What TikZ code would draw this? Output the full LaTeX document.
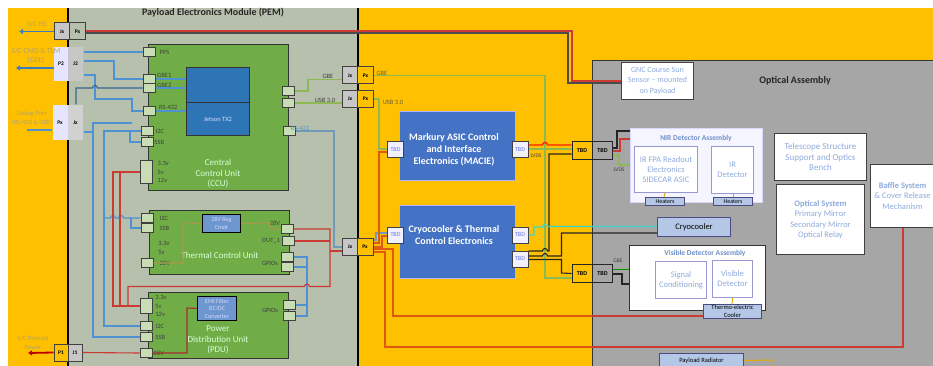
\documentclass[tikz,border=0pt]{standalone}
\usepackage{fontspec}
\setmainfont{Carlito}
\usepackage{xcolor}
\usetikzlibrary{arrows.meta,positioning}
\definecolor{busorange}{HTML}{FFC000}
\definecolor{pempanel}{HTML}{B7C0AC}
\definecolor{unitgreen}{HTML}{70AD47}
\definecolor{portgreen}{HTML}{C9DDB4}
\definecolor{optgray}{HTML}{A6A6A6}
\definecolor{jetblue}{HTML}{2E75B6}
\definecolor{elecblue}{HTML}{4472C4}
\definecolor{regblue}{HTML}{6F97CF}
\definecolor{partblue}{HTML}{B4C7E7}
\definecolor{wireblue}{HTML}{4F92D2}
\definecolor{wiregray}{HTML}{6F9AB8}
\definecolor{wirered}{HTML}{CC3A34}
\definecolor{wirepow}{HTML}{DE5A12}
\definecolor{wiregreen}{HTML}{8DB955}
\definecolor{wirecyan}{HTML}{38D6CE}
\definecolor{wireolive}{HTML}{A8984C}
\definecolor{arrblue}{HTML}{3C7EBB}
\definecolor{paletext}{HTML}{8FAADC}
\definecolor{titletext}{HTML}{6F8FC8}
\definecolor{olivetext}{HTML}{B0A468}

\begin{document}
\begin{tikzpicture}[
  x=1pt, y=-1pt,
  box/.style={draw, inner sep=0pt, align=center, anchor=north west},
  unit/.style={box, fill=unitgreen, line width=0.9pt, draw=black!80},
  unittext/.style={align=center, text=white!85!green, font=\fontsize{9}{10.5}\selectfont, inner sep=0pt},
  port/.style={draw=black!75, fill=portgreen, line width=1pt, inner sep=0pt, minimum width=12pt, minimum height=9pt},
  conn/.style={draw=black!75, line width=1pt, inner sep=0pt, minimum width=16pt, minimum height=17pt, font=\fontsize{5.5}{6}\selectfont\bfseries},
  jgray/.style={conn, fill=black!22},
  porange/.style={conn, fill=busorange},
  tbd/.style={draw=black!75, fill=blue!6, line width=1pt, inner sep=0pt, minimum width=16pt, minimum height=16pt, text=paletext!70!blue, font=\fontsize{6}{7}\selectfont},
  tbdo/.style={draw=black!85, fill=busorange, line width=1pt, inner sep=0pt, minimum width=20pt, minimum height=18pt, font=\fontsize{6}{7}\selectfont\bfseries},
  tbdg/.style={tbdo, fill=optgray},
  elec/.style={box, fill=elecblue, draw=blue!30!white, line width=0.8pt, minimum width=116pt},
  electext/.style={align=center, text=white, inner sep=0pt, font=\fontsize{10}{12}\selectfont\bfseries},
  whitebox/.style={box, fill=white, draw=black!75, line width=1pt, text=paletext, font=\fontsize{8.5}{10.5}\selectfont},
  inner/.style={box, fill=white, draw=black!45!blue!40, line width=1pt, text=paletext, font=\fontsize{8.5}{10}\selectfont},
  partbox/.style={box, fill=partblue, draw=blue!30!black!70, line width=1pt, font=\fontsize{6.5}{8}\selectfont},
  lbl/.style={font=\fontsize{6.5}{7.5}\selectfont, text=black!75, inner sep=0pt},
  ext/.style={text=olivetext, align=center, inner sep=0pt, font=\fontsize{6.5}{8.5}\selectfont},
  wb/.style={draw=wireblue, line width=1.2pt},
  wr/.style={draw=wirered, line width=1.1pt},
  wp/.style={draw=wirepow, line width=1.4pt},
  wg/.style={draw=wiregreen, line width=1.2pt},
  wk/.style={draw=black!85, line width=1.1pt},
  wo/.style={draw=busorange!90!black, line width=1pt},
  wl/.style={draw=wireolive, line width=1.1pt},
  arrb/.style={-{Latex[length=4pt,width=6pt]}, draw=arrblue, line width=1.6pt},
  arrr/.style={-{Latex[length=4pt,width=6pt]}, draw=red!75!black, line width=1.8pt}
]
  \useasboundingbox (0,0) rectangle (933,366);
  % backgrounds
  \fill[busorange] (8,8) rectangle (933,366);
  \fill[pempanel] (68,8) rectangle (358,366);
  \node[box, fill=optgray, draw=black!80, line width=0.9pt, minimum width=342pt, minimum height=307pt] (optical) at (592,60) {};
  \draw[black, line width=1.6pt] (68,8) -- (68,366);
  \draw[black, line width=1.6pt] (358,8) -- (358,366);
  \node[font=\fontsize{10}{12}\selectfont\bfseries, text=black!85] (pemtitle) at (213,13) {Payload Electronics Module (PEM)};
  \node[font=\fontsize{10}{12}\selectfont\bfseries, text=black!85] (opttitle) at (795,81) {Optical Assembly};

  % CCU
  \node[unit, minimum width=140pt, minimum height=146pt] (ccu) at (148,44) {};
  \node[box, fill=jetblue, draw=black!80, line width=0.9pt, minimum width=63pt, minimum height=35pt] (jettop) at (186,67) {};
  \node[box, fill=jetblue, draw=black!80, line width=0.9pt, minimum width=63pt, minimum height=33pt, text=white!85!blue, font=\fontsize{6.5}{8}\selectfont] (jetson) at (186,102) {Jetson TX2};
  \node[unittext] (ccutext) at (218,173.5) {Central\\Control Unit\\(CCU)};
  \node[port] (ccupps) at (149,52) {};
  \node[port] (ccugbea) at (149,79) {};
  \node[port] (ccugbeb) at (149,88) {};
  \node[port] (ccurs) at (149,111) {};
  \node[port] (ccuii) at (147,131) {};
  \node[port] (ccussb) at (147,142) {};
  \node[port, minimum height=23pt] (ccupwr) at (146,172) {};
  \node[port] (ccuoa) at (288,91) {};
  \node[port] (ccuob) at (288,103) {};
  \node[port] (ccuoc) at (289,131) {};
  \node[lbl, right=4pt of ccupps] (lpps) {PPS};
  \node[lbl, anchor=west] (lgbea) at (157,75.5) {GBE1};
  \node[lbl, anchor=west] (lgbeb) at (157,85) {GBE2};
  \node[lbl, anchor=west] (lrs) at (159,107.5) {RS-422};
  \node[lbl, right=2pt of ccuii] (lii) {I2C};
  \node[lbl, right=1pt of ccussb] (lssb) {SSB};
  \node[lbl, align=left, font=\fontsize{6.5}{8.5}\selectfont, right=5pt of ccupwr] (lpwr) {3.3v\\5v\\12v};

  % thermal control unit
  \node[unit, minimum width=140pt, minimum height=64pt] (tcu) at (149,210) {};
  \node[box, fill=regblue, draw=black, line width=0.9pt, minimum width=38pt, minimum height=18pt, text=white!85!blue, font=\fontsize{6}{7.5}\selectfont] (reg) at (202,214) {28V Reg\\Cmdr};
  \node[unittext] (tcutext) at (220,255) {Thermal Control Unit};
  \node[port] (tcuii) at (147,218) {};
  \node[port] (tcussb) at (147,228) {};
  \node[port] (tcuin) at (147,263) {};
  \node[port] (tcupwr) at (287,229) {};
  \node[port] (tcuout) at (288,241) {};
  \node[port] (tcuga) at (287,257) {};
  \node[port] (tcugb) at (287,267) {};
  \node[lbl, right=6pt of tcuii] (ltii) {I2C};
  \node[lbl, right=6pt of tcussb] (ltssb) {SSB};
  \node[lbl, align=left, font=\fontsize{6.5}{9}\selectfont] (ltpwr) at (164,247.5) {3.3v\\5v};
  \node[lbl, right=6pt of tcuin] (ltin) {28V};
  \node[lbl] (ltout) at (275,223) {28V};
  \node[lbl] (ltoa) at (271,241) {OUT\_1};
  \node[lbl] (ltgp) at (270,263) {GPIOs};

  % power distribution unit
  \node[unit, minimum width=140pt, minimum height=66pt] (pdu) at (148,292) {};
  \node[box, fill=regblue, draw=black, line width=0.9pt, minimum width=39pt, minimum height=24pt, text=white!85!blue, font=\fontsize{6}{7.5}\selectfont] (emi) at (197,296) {EMI Filter\\DC/DC\\Converter};
  \node[unittext] (pdutext) at (218,340) {Power\\Distribution Unit\\(PDU)};
  \node[port, minimum height=15pt] (pdupwr) at (146,306) {};
  \node[port] (pduii) at (146,326) {};
  \node[port] (pdussb) at (146,337) {};
  \node[port] (pduin) at (146,353) {};
  \node[port] (pduga) at (289,305) {};
  \node[port] (pdugb) at (289,316) {};
  \node[lbl, align=left, font=\fontsize{6.5}{8.5}\selectfont] (lppwr) at (161,306) {3.3v\\5v\\12v};
  \node[lbl, right=3pt of pduii] (lpii) {I2C};
  \node[lbl, right=3pt of pdussb] (lpssb) {SSB};
  \node[lbl, right=1pt of pduin] (lpin) {28V};
  \node[lbl] (lpgp) at (270,310) {GPIOs};

  % connectors on the left edge
  \node[jgray] (jxtop) at (62,31.5) {Jx};
  \node[conn, fill=pempanel] (pxtop) at (77.5,31.5) {Px};
  \node[conn, draw=none, fill=white!90!blue, minimum width=14pt, minimum height=34pt] (ptwo) at (61,64) {P2};
  \node[conn, draw=none, fill=black!22, minimum width=15pt, minimum height=34pt] (jtwo) at (75.5,64) {J2};
  \node[conn, draw=none, fill=white!90!blue, minimum width=15pt, minimum height=35pt] (pxdbg) at (60,122.5) {Px};
  \node[conn, draw=none, fill=black!18, minimum width=15pt, minimum height=35pt] (jxdbg) at (75.5,122.5) {Jx};
  \node[porange, minimum width=14pt] (pone) at (61,352.5) {P1};
  \node[jgray, minimum width=14pt] (jone) at (75,352.5) {J1};
  \coordinate (toparr) at (19,31.5);
  \coordinate (cmdarr) at (16,68);
  \coordinate (dbgend) at (27,130);
  \coordinate (pwrarr) at (28,353);
  \node[ext, font=\fontsize{7}{8.5}\selectfont] (lsc) at (37,24.5) {S/C ISS};
  \node[ext, font=\fontsize{7.5}{9}\selectfont] (lcmd) at (36,56) {S/C CMD \& TLM\\(GBE)};
  \node[ext] (ldbg) at (32,118) {Debug Port\\(RS-422 \& GBE)};
  \node[ext] (lpay) at (33,343) {S/C Payload\\Power};

  % connectors on the module edge
  \node[jgray] (jxa) at (350,75.5) {Jx};
  \node[porange] (pxa) at (365.5,75.5) {Px};
  \node[jgray] (jxb) at (350,99) {Jx};
  \node[porange] (pxb) at (365.5,99) {Px};
  \node[jgray] (jxc) at (350,247) {Jx};
  \node[porange] (pxc) at (365,247) {Px};
  \node[lbl] (lga) at (328,76) {GBE};
  \node[lbl] (lua) at (325,100.5) {USB 3.0};
  \node[lbl, text=olivetext!60!black] (lgb) at (382,73) {GBE};
  \node[lbl, text=olivetext!60!black] (lub) at (393,102) {USB 3.0};
  \node[lbl, text=wireblue] (lrsb) at (300,128) {RS-422};

  % electronics
  \node[elec, minimum height=69pt] (macie) at (399,111) {};
  \node[electext] (macietext) at (454,150) {Markury ASIC Control\\and Interface\\Electronics (MACIE)};
  \node[elec, minimum height=73pt] (cryoel) at (399,205) {};
  \node[electext] (cryotext) at (454,235.5) {Cryocooler \& Thermal\\Control Electronics};
  \node[tbd] (mcl) at (395.5,149.5) {TBD};
  \node[tbd] (mcr) at (520,149.5) {TBD};
  \node[tbd] (crl) at (395.5,235) {TBD};
  \node[tbd] (cra) at (520,235) {TBD};
  \node[tbd] (crb) at (520,259) {TBD};
  \node[tbdo] (toa) at (582,151) {TBD};
  \node[tbdg] (tga) at (602.5,151) {TBD};
  \node[tbdo] (tob) at (582,273.5) {TBD};
  \node[tbdg] (tgb) at (602.5,273.5) {TBD};
  \node[lbl, font=\fontsize{5.5}{6}\selectfont] (lvda) at (536,155.5) {LVDS};
  \node[lbl, font=\fontsize{5.5}{6}\selectfont] (lvdb) at (619,169.5) {LVDS};
  \node[lbl, font=\fontsize{5.5}{6}\selectfont] (lgbc) at (618,261) {GBE};

  % optical assembly
  \node[whitebox, minimum width=72pt, minimum height=37pt, font=\fontsize{8}{10.5}\selectfont] (gnc) at (621,62) {GNC Course Sun\\Sensor -- mounted\\on Payload};
  \node[box, fill=white!96!blue, draw=blue!15, line width=0.8pt, minimum width=132pt, minimum height=74pt] (nir) at (630,128) {};
  \node[font=\fontsize{7.5}{9}\selectfont\bfseries, text=titletext, inner sep=0pt] (nirtitle) at (696,138) {NIR Detector Assembly};
  \node[inner, minimum width=63pt, minimum height=46pt] (fpa) at (634,146) {IR FPA Readout\\Electronics\\SIDECAR ASIC};
  \node[inner, minimum width=42pt, minimum height=47pt] (irdet) at (711,146) {IR\\Detector};
  \node[partbox, minimum width=39pt, minimum height=8pt, font=\fontsize{6}{7}\selectfont] (heata) at (645,197) {Heaters};
  \node[partbox, minimum width=39pt, minimum height=8pt, font=\fontsize{6}{7}\selectfont] (heatb) at (713,197) {Heaters};
  \node[partbox, minimum width=73pt, minimum height=19pt, font=\fontsize{8.5}{10}\selectfont] (cooler) at (657,217) {Cryocooler};
  \node[box, fill=white, draw=black!80, line width=1pt, minimum width=136pt, minimum height=65pt] (vis) at (629,245) {};
  \node[font=\fontsize{7.5}{9}\selectfont\bfseries, text=titletext, inner sep=0pt] (vistitle) at (705,253) {Visible Detector Assembly};
  \node[inner, minimum width=51pt, minimum height=37pt] (signal) at (655,261) {Signal\\Conditioning};
  \node[inner, minimum width=40pt, minimum height=37pt] (visdet) at (712,260) {Visible\\Detector};
  \node[partbox, minimum width=58pt, minimum height=14pt] (tec) at (703,304) {Thermo-electric\\Cooler};
  \node[partbox, minimum width=84pt, minimum height=14pt] (rad) at (659,353) {Payload Radiator};
  \node[whitebox, minimum width=92pt, minimum height=47pt, font=\fontsize{9}{10.5}\selectfont] (scope) at (774,133) {Telescope Structure\\Support and Optics\\Bench};
  \node[whitebox, minimum width=88pt, minimum height=70pt] (optsys) at (776,184) {\textbf{Optical System}\\Primary Mirror\\Secondary Mirror\\Optical Relay};
  \node[whitebox, minimum width=64pt, minimum height=63pt] (baffle) at (870,164) {\textbf{Baffle System}\\\& Cover Release\\Mechanism};
  \coordinate (radend) at (773,366);

  % spacecraft links
  \draw[arrb] (jxtop.west) -- (toparr);
  \draw[arrb] (ptwo.west |- 0,68) -- (cmdarr);
  \draw[wb] (pxdbg.west |- 0,130) -- (dbgend);
  \draw[arrr] (pone.west) -- (pwrarr);
  \draw[wr] (pxtop.east |- 0,31) -- (572,31) -- (572,81) -- (gnc.west |- 0,81);
  \draw[wk, draw=black!70] (pxtop.east |- 0,33) -- (568,33) -- (568,83) -- (gnc.west |- 0,83);

  % blue links in the module
  \draw[wb] (jtwo.east |- 0,52) -- (ccupps.west);
  \draw[wb] (jtwo.east |- 0,61) -- (114,61) -- (114,79) -- (ccugbea.west);
  \draw[wb] (jtwo.east |- 0,75) -- (95,75) -- (95,99) -- (132,99) -- (132,111) -- (ccurs.west);
  \draw[wb, draw=wireblue!70!black] (jxdbg.north -| 76,0) -- (76,88) -- (92.5,88) arc[start angle=180,end angle=0,radius=2.5pt] -- (ccugbeb.west);
  \draw[wb] (jxdbg.east |- 0,132) -- (93,132);
  \draw[wb] (132,123) -- (93,123) -- (93,337) -- (pdussb.west);
  \draw[wb] (ccuii.west) -- (104,131) -- (104,326) -- (pduii.west);
  \draw[wb] (130,131) -- (130,142) -- (ccussb.west);
  \draw[wb] (104,218) -- (110.5,218) arc[start angle=180,end angle=0,radius=2.5pt] -- (118.5,218) arc[start angle=180,end angle=0,radius=2.5pt] -- (tcuii.west);
  \draw[wb] (131,218) -- (131,228) -- (tcussb.west);
  \draw[wb] (tcuga.east) -- (307,257) -- (307,316) -- (pdugb.east);
  \draw[wb] (tcugb.east) -- (307,267);
  \draw[wb] (pduga.east) -- (307,305);
  \draw[wb] (ccugbea.east) -- (jettop.west |- 0,79);
  \draw[wb] (ccugbeb.east) -- (jettop.west |- 0,88);
  \draw[wb] (ccurs.east) -- (jetson.west |- 0,111);
  \draw[wb, draw=wiregray] (ccuoc.east) -- (334,131) -- (334,247) -- (jxc.west |- 0,247);
  \draw[wb, draw=wiregray] (pxc.east |- 0,240) -- (376,240) -- (376,233) -- (crl.west |- 0,233);

  % power links in the module
  \draw[wr] (ccupwr.west) -- (113,172) -- (113,306) -- (pdupwr.west);
  \draw[wr] (120,172) -- (120,306);
  \draw[wr] (tcupwr.east) -- (330,229) -- (330,286.5) -- (309.5,286.5) arc[start angle=0,end angle=180,radius=2.5pt] -- (128,286.5) -- (128,306);
  \draw[wr] (tcuout.east) -- (330,241);
  \draw[wr] (330,251) -- (jxc.west |- 0,251);
  \draw[wr] (jone.east) -- (pduin.west);
  \draw[wr, draw=wirered!80!black] (pduin.east) -- (187,353) -- (187,308) -- (emi.west);
  \draw[wl] (tcuin.east) -- (183,263) -- (183,223) -- (reg.west);
  \draw[wl] (reg.east) -- (270,223) -- (270,229) -- (tcupwr.west);

  % links to the bus
  \draw[wg] (ccuoa.east) -- (308,91) -- (308,79.5) -- (jxa.west |- 0,79.5);
  \draw[wg] (ccuob.east) -- (jxb.west |- 0,103);
  \draw[wg] (pxa.east) -- (545,75.5) -- (545,278) -- (tob.west |- 0,278);
  \draw[wg] (pxb.east) -- (379,99) -- (379,149) -- (mcl.west |- 0,149);
  \draw[wp] (mcl.west |- 0,152) -- (379,152) -- (379,243) -- (pxc.east |- 0,243);
  \draw[wp] (pxc.east) -- (382,247) -- (382,236) -- (crl.west |- 0,236);
  \draw[wp] (pxc.east |- 0,249) -- (393,249) -- (393,316) -- (592,316);
  \draw[wr] (592,316) -- (tec.west |- 0,316);
  \draw[wp] (pxc.east |- 0,252) -- (385,252) -- (385,347) -- (592,347);
  \draw[wr] (592,347) -- (903,347) -- (903,227.5);

  % detector harness
  \draw[wp, draw=red!75!orange] (mcr.east |- 0,145) -- (542.5,145) arc[start angle=180,end angle=0,radius=2.5pt] -- (toa.west |- 0,145);
  \draw[wg] (mcr.east |- 0,149) -- (toa.west |- 0,149);
  \draw[wk] (toa.west |- 0,154) -- (549,154) -- (549,251) -- (547.5,251) arc[start angle=0,end angle=180,radius=2.5pt] -- (crb.east |- 0,251);
  \draw[wk] (cooler.west |- 0,233) -- (561.5,233) -- (561.5,256) -- (547.5,256) arc[start angle=0,end angle=180,radius=2.5pt] -- (crb.east |- 0,256);
  \draw[wk] (crb.east |- 0,259.5) -- (561.5,259.5) -- (561.5,273) -- (tob.west);
  \draw[wirecyan, line width=1.1pt] (cra.east) -- (534,235) -- (534,227) -- (542.5,227) arc[start angle=180,end angle=0,radius=2.5pt] -- (550,226.5) -- (cooler.west |- 0,226.5);
  \draw[wk] (tga.east |- 0,148) -- (617,148) -- (617,131) -- (nir.west |- 0,131);
  \draw[wr] (tga.east |- 0,151) -- (620,151) -- (620,139) -- (nir.west |- 0,139);
  \draw[wg] (tga.east |- 0,155) -- (619,155) -- (619,165) -- (nir.west |- 0,165);
  \draw[draw=green!60!black, line width=1pt] (tgb.east |- 0,269) -- (vis.west |- 0,269);
  \draw[wk] (tgb.east |- 0,274) -- (622,274) -- (622,284) -- (vis.west |- 0,284);

  % small cooling straps
  \draw[wo] (fpa.south -| 665,0) -- (heata.north -| 664,0);
  \draw[wo] (irdet.south -| 733,0) -- (heatb.north -| 733,0);
  \draw[wo] (693,203) -- (cooler.north -| 693,0);
  \draw[wo] (visdet.south) -- (tec.north -| 732,0);
  \draw[wo] (rad.east) -- (773,360) -- (radend);
\end{tikzpicture}
\end{document}
